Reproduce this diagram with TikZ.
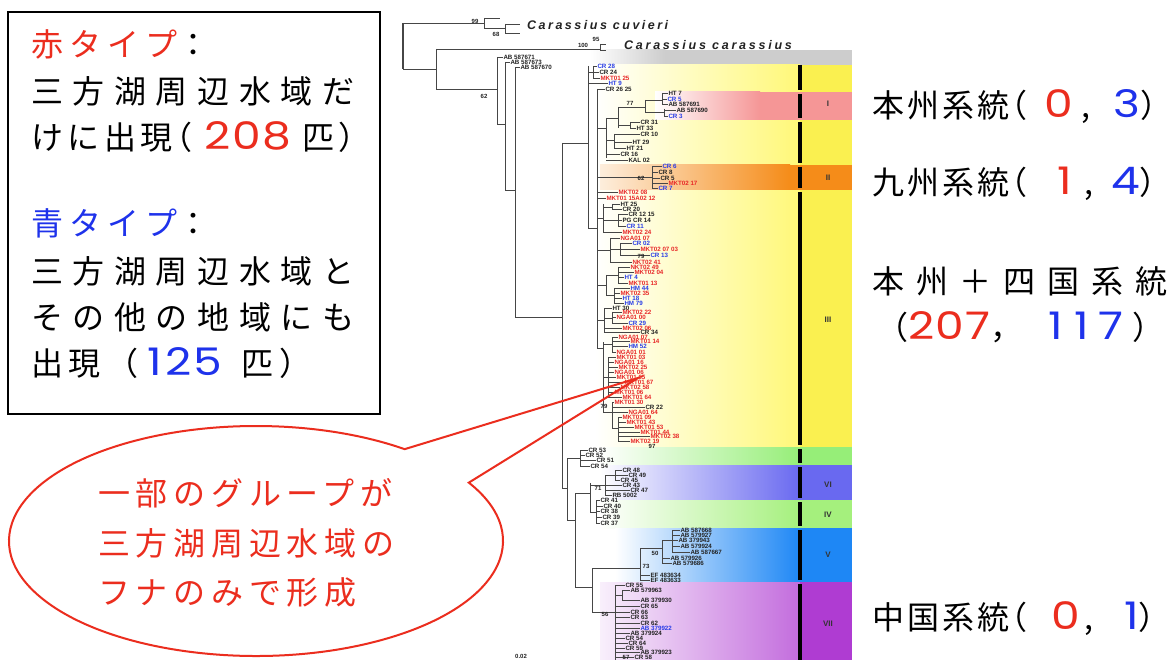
\documentclass[tikz,border=0pt]{standalone}
\usepackage{fontspec}
\usetikzlibrary{calc}
\newfontfamily\jp{Noto Sans CJK JP}
\newfontfamily\dg{Poppins}
\newfontfamily\tl{Liberation Sans}
\definecolor{jred}{RGB}{235,45,30}
\definecolor{jblue}{RGB}{30,50,235}
\definecolor{tk}{RGB}{35,35,35}
\definecolor{tr}{RGB}{232,40,40}
\definecolor{tb}{RGB}{40,60,230}
\definecolor{brc}{RGB}{70,70,70}
\definecolor{cgray}{RGB}{205,205,205}
\definecolor{cyel}{RGB}{255,248,120}
\definecolor{cyelS}{RGB}{250,240,80}
\definecolor{cpink}{RGB}{245,150,150}
\definecolor{corange}{RGB}{245,140,25}
\definecolor{cgreen}{RGB}{150,238,120}
\definecolor{cvi}{RGB}{105,105,240}
\definecolor{civ}{RGB}{165,240,125}
\definecolor{cv}{RGB}{30,135,245}
\definecolor{cvii}{RGB}{175,60,210}
\newcommand\LS[1]{\addfontfeatures{LetterSpace=#1}}
\newcommand\dgt[3][3]{{\color{#2}\dg\fontsize{38}{40}\selectfont\addfontfeatures{LetterSpace=#1}\scalebox{1.2}[1]{#3}}}
\newcommand\rp{\makebox[8pt][l]{）}}
\tikzset{
  br/.style={draw=brc,line width=0.8pt},
  lf/.style={font=\tl\bfseries\fontsize{6.2}{7}\selectfont,inner sep=0.3pt,anchor=west},
  bs/.style={font=\tl\bfseries\fontsize{6}{7}\selectfont,inner sep=0pt,text=tk},
  sp/.style={font=\tl\bfseries\itshape\fontsize{12.5}{13}\selectfont,anchor=west,inner sep=0pt,text=tk},
  jt/.style={font=\jp\fontsize{32}{38}\selectfont,inner sep=0pt,anchor=base west},
  roman/.style={font=\tl\bfseries\fontsize{8}{9}\selectfont,text=black!80,inner sep=0pt},
  bar/.style={line width=4pt,black},
  bubble/.style={draw=jred,line width=2pt,line join=miter},
}
\begin{document}
\begin{tikzpicture}[x=1pt,y=-1pt]
\useasboundingbox (0,0) rectangle (1170,660);
\fill[white] (0,0) rectangle (1170,660);
\begin{scope}
\clip (0,0) rectangle (1170,660);
% ---------- colour bands ----------
\shade[left color=white,right color=cgray] (590,50) rectangle (665,65);
\fill[cgray] (665,50) rectangle (852,65);
\shade[left color=white,right color=cyel] (595,65) rectangle (800,447);
\fill[cyelS] (800,65) rectangle (852,447);
\shade[left color=white,right color=cpink] (655,92) rectangle (760,120);
\fill[cpink] (760,92) rectangle (852,120);
\shade[left color=corange!15!white,right color=corange] (600,165) rectangle (790,190);
\fill[corange] (790,165) rectangle (852,190);
\shade[left color=white,right color=cgreen] (600,447) rectangle (800,465);
\fill[cgreen] (800,447) rectangle (852,465);
\shade[left color=white,right color=cvi] (600,465) rectangle (800,500);
\fill[cvi] (800,465) rectangle (852,500);
\shade[left color=white,right color=civ] (600,500) rectangle (800,528);
\fill[civ] (800,500) rectangle (852,528);
\shade[left color=white,right color=cv] (615,528) rectangle (800,582);
\fill[cv] (800,528) rectangle (852,582);
\shade[left color=cvii!8!white,right color=cvii!75!white] (600,582) rectangle (800,660);
\fill[cvii] (800,582) rectangle (852,660);
% ---------- tree ----------
\draw[draw=brc,line width=2pt] (403,23) -- (403,69);
\foreach \x/\ya/\yb in {484/18/28,505/24/33,436/49/89,497/57/124,505/62/190,515/67/317,
 562/143/488,588/66/228,593/66/78,597/89/348,606/118/158,618/107/128,645/100/112,662/93/105,
 664/109/116,630/122/128,614/134/148,652/166/188,603/204/232,612/204/209,618/214/226,
 610/238/262,620/243/255,606/275/295,618/267/283,614/288/303,604/308/333,612/312/323,
 603/342/412,612/337/352,608/357/397,612/402/428,618/417/441,567/458/520,580/450/466,
 575/493/587,590/483/512,605/475/495,615/470/480,596/500/523,592/568/612,640/548/580,
 662/540/563,672/530/552,615/585/660,622/590/600,600/44/50}
  \draw[br] (\x,\ya) -- (\x,\yb);
\foreach \xa/\xb/\y in {403/484/23,484/500/18,484/505/28,505/520/24,505/520/33,403/436/69,
 436/600/49,436/497/89,497/505/124,505/515/190,515/562/317,562/588/143,588/593/72,588/597/228,
 597/606/128,606/618/118,618/645/107,645/662/100,645/664/112,618/630/125,606/614/140,
 597/652/177,597/603/218,603/612/207,603/618/220,597/610/250,610/620/249,597/606/285,
 606/618/275,606/614/295,597/604/320,604/612/318,597/603/348,603/612/344,603/608/377,
 603/612/412,612/618/428,562/567/488,567/580/458,567/575/520,575/590/493,590/605/485,
 605/615/475,590/596/512,575/592/587,592/640/568,640/662/548,662/672/540,592/615/612,
 615/622/595,600/606/44,600/606/50}
  \draw[br] (\xa,\y) -- (\xb,\y);
\foreach \vx/\lx/\y/\t/\c [count=\i] in {
 497/503/57/AB 587671/tk, 505/510/62/AB 587673/tk, 515/520/67/AB 587670/tk,
 593/597/66/CR 28/tb, 593/599/72/CR 24/tk, 593/600/78/MKT01 25/tr, 588/608/83/HT 9/tb,
 597/605/89/CR 26 25/tk, 662/668/93/HT 7/tk, 662/667/99/CR 5/tb, 662/668/104/AB 587691/tk,
 664/676/110/AB 587690/tk, 664/668/116/CR 3/tb, 630/640/122/CR 31/tk, 630/636/128/HT 33/tk,
 614/640/134/CR 10/tk, 614/632/142/HT 29/tk, 614/626/148/HT 21/tk, 606/620/154/CR 16/tk,
 606/628/160/KAL 02/tk, 652/662/166/CR 6/tb, 652/658/172/CR 8/tk, 652/660/178/CR 5/tk,
 652/668/183/MKT02 17/tr, 652/658/188/CR 7/tb, 597/618/192/MKT02 08/tr,
 597/606/198/MKT01 15A02 12/tr, 612/620/204/HT 25/tk, 612/622/209/CR 20/tk,
 618/628/214/CR 12 15/tk, 618/622/220/PG CR 14/tk, 618/626/226/CR 11/tb,
 603/622/232/MKT02 24/tr, 610/620/238/NGA01 07/tr, 620/632/243/CR 02/tb,
 620/640/249/MKT02 07 03/tr, 620/650/255/CR 13/tb, 610/632/262/NKT02 41/tr,
 618/630/267/NKT02 49/tr, 618/634/272/MKT02 04/tr, 618/624/277/HT 4/tb,
 618/628/283/MKT01 13/tr, 614/630/288/HM 44/tb, 614/620/293/MKT02 35/tr,
 614/622/298/HT 18/tb, 614/624/303/HM 79/tb, 604/612/308/HT 30/tk, 612/622/312/MKT02 22/tr,
 612/616/317/NGA01 00/tr, 612/628/323/CR 29/tb, 604/622/328/MKT02 06/tr, 604/640/332/CR 34/tk,
 612/618/337/NGA01 07/tr, 612/630/341/MKT01 14/tr, 612/628/346/HM 52/tb,
 612/616/352/NGA01 01/tr, 608/616/357/MKT01 03/tr, 608/614/362/NGA01 16/tr,
 608/618/367/MKT02 25/tr, 608/614/372/NGA01 06/tr, 608/616/377/MKT01 05/tr,
 608/624/382/MKT01 67/tr, 608/620/387/MKT02 58/tr, 608/614/392/MKT01 06/tr,
 608/622/397/MKT01 64/tr, 612/614/402/MKT01 30/tr, 612/645/407/CR 22/tk,
 612/628/412/NGA01 64/tr, 618/622/417/MKT01 09/tr, 618/626/422/MKT01 43/tr,
 618/634/427/MKT01 53/tr, 618/640/432/MKT01 44/tr, 618/650/436/MKT02 38/tr,
 618/630/441/MKT02 19/tr, 580/588/450/CR 53/tk, 580/585/455/CR 52/tk, 580/596/460/CR 51/tk,
 580/590/466/CR 54/tk, 615/622/470/CR 48/tk, 615/628/475/CR 49/tk, 615/620/480/CR 45/tk,
 605/622/485/CR 43/tk, 605/630/490/CR 47/tk, 605/612/495/RB 5002/tk, 596/600/500/CR 41/tk,
 596/603/506/CR 40/tk, 596/600/511/CR 38/tk, 596/602/517/CR 39/tk, 596/600/523/CR 37/tk,
 672/680/530/AB 587668/tk, 672/680/535/AB 579927/tk, 672/678/540/AB 379943/tk,
 672/680/546/AB 579924/tk, 672/690/552/AB 587667/tk, 662/670/558/AB 579926/tk,
 662/672/563/AB 579686/tk, 640/650/575/EF 483634/tk, 640/650/580/EF 483633/tk,
 615/625/585/CR 55/tk, 622/630/590/AB 579963/tk, 622/640/600/AB 379930/tk,
 615/640/606/CR 65/tk, 615/630/612/CR 66/tk, 615/630/617/CR 63/tk, 615/640/623/CR 62/tk,
 615/640/628/AB 379922/tb, 615/630/633/AB 379924/tk, 615/625/638/CR 54/tk,
 615/628/643/CR 64/tk, 615/625/648/CR 59/tk, 615/640/652/AB 379923/tk, 615/634/657/CR 58/tk}
{
  \draw[br] (\vx,\y) -- (\lx,\y);
  \node[lf,text=\c] (leaf\i) at (\lx,\y) {\t};
}
% bootstrap values
\foreach \x/\y/\t [count=\i] in {475/21/99, 496/34/68, 583/45/100, 596/39/95, 484/96/62,
 630/103/77, 641/178/62, 641/256/79, 604/406/79, 652/446/97, 598/488/71, 655/553/50,
 646/566/73, 605/614/56, 626/657/57}
  \node[bs] (bs\i) at (\x,\y) {\t};
\node[sp] (cuv) at (527,25) {\LS{20}Carassius cuvieri};
\node[sp] (car) at (624,45) {\LS{22}Carassius carassius};
\node[bs] (scale) at (521,656) {0.02};
% ---------- clade bar ----------
\foreach \ya/\yb in {65/90,94/118,122/163,167/188,192/445,449/463,467/498,502/526,530/580,584/660}
  \draw[bar] (800,\ya) -- (800,\yb);
\node[roman] (c1) at (828,104) {I};
\node[roman] (c2) at (828,178) {II};
\node[roman] (c3) at (828,320) {III};
\node[roman] (c6) at (828,485) {VI};
\node[roman] (c4) at (828,515) {IV};
\node[roman] (c5) at (828,555) {V};
\node[roman] (c7) at (828,624) {VII};
\end{scope}
% ---------- left box ----------
\draw[line width=1.8pt] (8,12) rectangle (380,414);
\node[jt] (b1) at (31,57) {\LS{19}\textcolor{jred}{赤タイプ}：};
\node[jt] (b2) at (31,104) {\LS{30}三方湖周辺水域だ};
\node[jt] (b3) at (31,150) {\LS{14}けに出現\hspace{-12pt}（\hspace{12pt}\dgt{jred}{208}\hspace{11pt}匹）};
\node[jt] (b4) at (31,236) {\LS{19}\textcolor{jblue}{青タイプ}：};
\node[jt] (b5) at (31,284) {\LS{30}三方湖周辺水域と};
\node[jt] (b6) at (31,330) {\LS{30}その他の地域にも};
\node[jt] (b7) at (31,375) {\LS{18}出現（\hspace{9pt}\dgt[6]{jblue}{125}\hspace{19pt}匹）};
% ---------- right labels ----------
\node[jt] (r1) at (872,118) {\LS{10}本州系統\hspace{-14pt}（\hspace{17pt}\dgt{jred}{0}\hspace{8pt},\hspace{23pt}\dgt{jblue}{3}\rp};
\node[jt] (r2) at (872,195) {\LS{10}九州系統\hspace{-14pt}（\hspace{30pt}\dgt{jred}{1}\hspace{12pt},\hspace{18pt}\dgt{jblue}{4}\rp};
\node[jt] (r3) at (872,294) {\LS{37}本州＋四国系統};
\node[jt] (r4) at (876,339) {\LS{10}（\dgt{jred}{207}，\hspace{26pt}\dgt{jblue}{1\hspace{9pt}1\hspace{8pt}7}\hspace{9pt}\rp};
\node[jt] (r5) at (872,629) {\LS{10}中国系統\hspace{-14pt}（\hspace{24pt}\dgt{jred}{0}\hspace{4pt},\hspace{31pt}\dgt{jblue}{1}\rp};
% ---------- speech bubble ----------
\coordinate (bc) at (256,541);
\coordinate (tip) at (638,378);
\draw[bubble] (tip) -- ($(bc)+(-30.5:247 and 115)$) arc[start angle=-30.5,end angle=307,x radius=247,y radius=115] -- cycle;
\node[jt,text=jred] (u1) at (98,505) {\LS{18}一部のグループが};
\node[jt,text=jred] (u2) at (98,555) {\LS{18}三方湖周辺水域の};
\node[jt,text=jred] (u3) at (98,604) {\LS{18}フナのみで形成};
\end{tikzpicture}
\end{document}
